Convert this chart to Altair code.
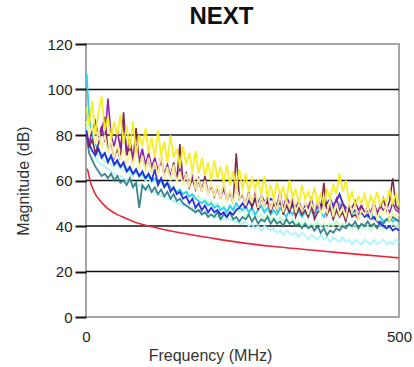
import altair as alt
import pandas as pd

# Frequencies (MHz) shared by measured traces
freq = [1, 5, 10, 15, 20, 25, 30, 35, 40, 45,
        50, 55, 60, 65, 70, 75, 80, 85, 90, 95,
        100, 105, 110, 115, 120, 125, 130, 135, 140, 145,
        150, 155, 160, 165, 170, 175, 180, 185, 190, 195,
        200, 205, 210, 215, 220, 225, 230, 235, 240, 245,
        250, 255, 260, 265, 270, 275, 280, 285, 290, 295,
        300, 305, 310, 315, 320, 325, 330, 335, 340, 345,
        350, 355, 360, 365, 370, 375, 380, 385, 390, 395,
        400, 405, 410, 415, 420, 425, 430, 435, 440, 445,
        450, 455, 460, 465, 470, 475, 480, 485, 490, 495,
        500]

light_cyan = [84, 77, 73, 70, 68, 67, 66, 65, 64, 63,
              62, 62, 61, 60, 60, 59, 58, 58, 57, 56,
              56, 55, 55, 54, 53, 53, 52, 52, 51, 50,
              50, 49, 49, 48, 48, 47, 47, 46, 46, 45,
              45, 45, 44, 44, 43, 43, 43, 42, 42, 41,
              41, 42, 40, 41, 39, 40, 38, 40, 39, 38,
              39, 37, 38, 36, 38, 37, 36, 37, 35, 37,
              36, 34, 36, 35, 34, 36, 34, 35, 33, 35,
              34, 33, 35, 33, 34, 32, 34, 33, 32, 34,
              33, 32, 34, 32, 33, 34, 32, 33, 32, 34,
              33]
light_green = [86, 79, 76, 73, 71, 70, 68, 69, 67, 66,
               67, 65, 64, 66, 63, 62, 64, 61, 62, 60,
               61, 59, 60, 58, 59, 57, 58, 56, 57, 55,
               56, 54, 55, 53, 54, 52, 53, 51, 52, 50,
               51, 49, 50, 48, 49, 47, 48, 47, 48, 46,
               47, 45, 46, 45, 46, 44, 45, 43, 45, 43,
               44, 42, 44, 42, 43, 41, 43, 41, 42, 40,
               42, 40, 41, 40, 42, 40, 41, 39, 41, 40,
               42, 40, 41, 39, 40, 39, 41, 38, 40, 39,
               40, 38, 40, 39, 41, 38, 40, 39, 41, 40,
               40]
light_yellow = [86, 80, 84, 76, 82, 74, 80, 72, 78, 70,
                76, 69, 74, 67, 73, 66, 75, 65, 71, 64,
                70, 63, 68, 62, 72, 61, 66, 60, 67, 59,
                64, 58, 63, 57, 66, 56, 61, 55, 60, 54,
                59, 53, 58, 52, 60, 51, 56, 50, 57, 52,
                55, 49, 54, 50, 58, 48, 53, 49, 55, 47,
                52, 47, 54, 46, 51, 48, 55, 46, 50, 47,
                51, 45, 50, 47, 53, 45, 49, 46, 52, 44,
                50, 45, 48, 44, 51, 46, 49, 43, 47, 45,
                48, 44, 50, 43, 47, 45, 49, 42, 46, 44,
                45]
yellow = [92, 84, 95, 80, 90, 97, 82, 88, 78, 86,
          80, 89, 76, 84, 74, 86, 72, 80, 75, 83,
          72, 79, 70, 82, 71, 77, 68, 80, 70, 74,
          66, 75, 67, 72, 64, 73, 63, 70, 62, 68,
          60, 69, 61, 66, 59, 67, 58, 64, 57, 65,
          56, 63, 55, 61, 57, 60, 54, 62, 53, 58,
          52, 59, 54, 57, 51, 60, 53, 56, 50, 58,
          52, 55, 51, 57, 50, 54, 49, 56, 52, 58,
          54, 63, 55, 60, 51, 55, 49, 53, 50, 54,
          48, 53, 50, 55, 49, 52, 51, 56, 50, 54,
          49]
cyan = [107, 88, 80, 76, 73, 71, 72, 69, 70, 67,
        68, 66, 67, 64, 65, 63, 64, 62, 63, 61,
        62, 60, 61, 59, 60, 58, 59, 57, 56, 55,
        56, 54, 55, 53, 54, 52, 51, 50, 51, 49,
        50, 48, 49, 47, 48, 46, 49, 47, 50, 48,
        47, 49, 46, 48, 45, 47, 49, 46, 48, 45,
        47, 45, 48, 46, 44, 47, 45, 48, 46, 44,
        46, 44, 47, 45, 48, 46, 44, 47, 49, 46,
        48, 50, 47, 46, 48, 45, 47, 44, 46, 45,
        44, 46, 43, 45, 44, 42, 43, 44, 42, 43,
        42]
teal = [79, 72, 69, 66, 64, 62, 63, 61, 63, 60,
        62, 59, 60, 58, 61, 57, 59, 48, 58, 56,
        58, 55, 57, 54, 56, 53, 55, 52, 54, 51,
        52, 50, 49, 48, 47, 46, 47, 45, 46, 44,
        45, 44, 46, 43, 45, 44, 46, 43, 44, 42,
        44, 43, 45, 42, 44, 41, 43, 42, 44, 41,
        43, 41, 42, 40, 43, 41, 42, 40, 41, 39,
        41, 39, 40, 38, 40, 37, 39, 36, 38, 37,
        39, 38, 40, 39, 41, 40, 42, 39, 41, 40,
        42, 40, 41, 39, 42, 41, 43, 42, 44, 43,
        42]
blue = [82, 76, 73, 71, 74, 70, 72, 68, 71, 67,
        69, 66, 68, 64, 66, 63, 65, 62, 64, 61,
        63, 60, 65, 58, 61, 57, 59, 55, 57, 54,
        55, 52, 53, 50, 52, 48, 50, 47, 49, 46,
        48, 46, 47, 45, 46, 44, 46, 45, 47, 48,
        50, 48, 51, 49, 52, 50, 53, 51, 50, 52,
        51, 49, 50, 48, 51, 47, 49, 48, 50, 47,
        49, 48, 50, 47, 51, 49, 48, 50, 52, 49,
        51, 54, 50, 48, 47, 46, 47, 45, 46, 44,
        45, 43, 44, 42, 41, 40, 39, 40, 38, 39,
        38]
purple = [80, 76, 82, 86, 79, 84, 77, 96, 80, 75,
          82, 74, 85, 72, 78, 70, 76, 69, 74, 67,
          72, 66, 70, 64, 69, 63, 67, 62, 66, 61,
          65, 60, 63, 58, 62, 57, 61, 56, 60, 55,
          58, 54, 57, 53, 56, 52, 55, 51, 57, 52,
          54, 50, 53, 51, 55, 49, 52, 50, 53, 48,
          51, 49, 55, 47, 53, 50, 52, 48, 51, 47,
          50, 48, 52, 46, 49, 47, 51, 46, 50, 48,
          52, 47, 50, 46, 49, 48, 51, 47, 49, 46,
          48, 46, 50, 45, 49, 47, 48, 46, 50, 47,
          46]
maroon = [80, 75, 78, 72, 76, 82, 88, 73, 77, 70,
          74, 69, 90, 71, 75, 68, 83, 67, 71, 65,
          69, 64, 67, 63, 71, 62, 66, 61, 68, 60,
          76, 59, 63, 57, 61, 56, 60, 55, 62, 54,
          58, 53, 57, 52, 59, 51, 55, 50, 72, 52,
          54, 49, 55, 48, 52, 47, 53, 49, 51, 46,
          50, 47, 53, 45, 49, 46, 51, 44, 48, 45,
          47, 44, 49, 43, 46, 47, 59, 45, 48, 43,
          47, 44, 46, 42, 48, 44, 45, 43, 49, 45,
          47, 44, 50, 46, 48, 52, 47, 51, 61, 49,
          47]

# Limit line
limit_freq = [1, 2, 4, 6, 8, 10, 16, 20, 31.25, 50, 62.5, 80, 100, 150, 200, 250, 300, 350, 400, 450, 500]
limit_db = [65, 65, 63, 60.5, 58.5, 57, 53.5, 52, 48.5, 45, 43.5, 41.5, 40, 37, 34.7, 32.6, 31, 29.7, 28.4, 27.2, 26]

grid_vals = [20, 40, 60, 80, 100]

# drawing order: first listed is drawn underneath
series = [
    ("light_cyan", light_cyan, "#a8f4ff", 1.8),
    ("light_green", light_green, "#b8ffd0", 1.8),
    ("cyan", cyan, "#22ccf0", 1.8),
    ("teal", teal, "#2f7f86", 1.8),
    ("blue", blue, "#2222e0", 1.8),
    ("maroon", maroon, "#7a2040", 1.6),
    ("purple", purple, "#8a1aa8", 1.6),
    ("light_yellow", light_yellow, "#fbf59a", 1.8),
    ("yellow", yellow, "#f6ee1a", 1.8),
]

xscale = alt.Scale(domain=[0, 500], nice=False, zero=False)
yscale = alt.Scale(domain=[0, 120], nice=False)

xaxis = alt.Axis(values=[0, 500], title="Frequency (MHz)", grid=False, ticks=False, domain=False,
                 labelFlush=False,
                 labelFontSize=15, labelColor="#222", labelPadding=12, labelFont="Liberation Sans",
                 titleFontSize=16, titleFontWeight="normal", titleColor="#333", titleFont="Liberation Sans",
                 titleX=124, titleY=38, titleBaseline="middle")
yaxis = alt.Axis(values=[0, 20, 40, 60, 80, 100, 120], title="Magnitude (dB)", grid=False,
                 ticks=True, tickSize=11, tickWidth=2, tickColor="#111", domain=False,
                 labelFontSize=15, labelColor="#222", labelPadding=3, labelFont="Liberation Sans",
                 titleFontSize=16, titleFontWeight="normal", titleColor="#333", titleFont="Liberation Sans",
                 titleX=-63, titleBaseline="middle")

grid = alt.Chart(pd.DataFrame({"v": grid_vals})).mark_rule(color="#111", strokeWidth=1.6).encode(
    y=alt.Y("v:Q", scale=yscale, axis=yaxis)
)

layers = [grid]
for name, vals, col, sw in series:
    df = pd.DataFrame({"f": freq, "db": vals})
    layers.append(
        alt.Chart(df).mark_line(color=col, strokeWidth=sw, opacity=0.95).encode(
            x=alt.X("f:Q", scale=xscale, axis=xaxis),
            y=alt.Y("db:Q", scale=yscale),
        )
    )

limit_df = pd.DataFrame({"f": limit_freq, "db": limit_db})
layers.append(
    alt.Chart(limit_df).mark_line(color="#e8283c", strokeWidth=1.6, interpolate="monotone").encode(
        x=alt.X("f:Q", scale=xscale),
        y=alt.Y("db:Q", scale=yscale),
    )
)

chart = alt.layer(*layers).properties(
    width=313,
    height=273,
    title=alt.TitleParams("NEXT", fontSize=24, fontWeight="bold", font="Liberation Sans",
                          color="#111", anchor="middle", dx=-21, offset=8),
    autosize=alt.AutoSizeParams(type="none"),
    padding={"left": 86, "top": 44, "right": 15, "bottom": 50},
    background="white",
).configure_view(stroke="#a6a6a6", strokeWidth=2)

chart.save("out.html", embed_options={"renderer": "svg", "actions": False})
